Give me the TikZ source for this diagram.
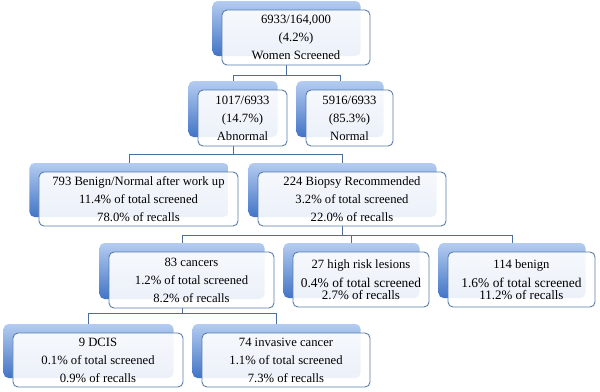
\documentclass[tikz,border=0pt]{standalone}
\usepackage{fontspec}
\setmainfont{Liberation Serif}
\usetikzlibrary{backgrounds,calc}
\definecolor{edgeblue}{HTML}{5A7DAA}
\definecolor{linecol}{HTML}{4C6E9E}
\definecolor{backtop}{HTML}{B4CCF0}
\definecolor{backbot}{HTML}{4274C6}
\tikzset{
  card/.style={draw=edgeblue, line width=0.9bp, rounded corners=5bp, fill=white,
    fill opacity=0.9, text opacity=1, align=center, inner sep=0pt, outer sep=0pt,
    font=\fontsize{12.7}{18}\selectfont},
  backcard/.style={rounded corners=5bp, top color=backtop, bottom color=backbot},
  conn/.style={draw=linecol, line width=0.9bp},
}
\newcommand\bcard[1]{\path[backcard] ([shift={(-9.5bp,9bp)}]#1.south west) rectangle ([shift={(-9.5bp,9bp)}]#1.north east);}
\newcommand\bpoints[1]{%
  \coordinate (#1-b) at ([xshift=-9.5bp]#1.south);
  \coordinate (#1-t) at ([shift={(-9.5bp,9bp)}]#1.north);}
\begin{document}
\begin{tikzpicture}[x=1bp,y=-1bp]
\useasboundingbox (0,0) rectangle (600,391);
% front cards
\node[card, minimum width=148bp, minimum height=55bp] (top) at (296,37.5) {6933/164,000\\(4.2\%)\\Women Screened};
\node[card, minimum width=89bp, minimum height=56bp] (abn) at (242.5,118) {1017/6933\\(14.7\%)\\Abnormal};
\node[card, minimum width=87bp, minimum height=56bp] (norm) at (349.5,118) {5916/6933\\(85.3\%)\\Normal};
\node[card, minimum width=199bp, minimum height=54bp] (ben) at (138.5,199) {793 Benign/Normal after work up\\11.4\% of total screened\\78.0\% of recalls};
\node[card, minimum width=188bp, minimum height=54bp] (bio) at (352,199) {224 Biopsy Recommended\\3.2\% of total screened\\22.0\% of recalls};
\node[card, minimum width=165bp, minimum height=56bp] (can) at (191.5,280) {83 cancers\\1.2\% of total screened\\8.2\% of recalls};
\node[card, minimum width=136bp, minimum height=55bp] (hr) at (361,279.5) {27 high risk lesions\\[1pt]{\fontsize{13.5}{18}\selectfont 0.4\% of total screened}\\[-6pt]{\fontsize{13}{18}\selectfont 2.7\% of recalls}};
\node[card, minimum width=147bp, minimum height=55bp] (bn) at (521.5,279.5) {114 benign\\[1pt]{\fontsize{13.5}{18}\selectfont 1.6\% of total screened}\\[-6pt]{\fontsize{13}{18}\selectfont 11.2\% of recalls}};
\node[card, minimum width=170bp, minimum height=54bp] (dcis) at (98,360) {9 DCIS\\0.1\% of total screened\\0.9\% of recalls};
\node[card, minimum width=168bp, minimum height=54bp] (inv) at (286,360) {74 invasive cancer\\1.1\% of total screened\\7.3\% of recalls};
\foreach \n in {top,abn,norm,ben,bio,can,hr,bn,dcis,inv}{\bpoints{\n}}
\begin{scope}[on background layer]
  \fill[white] (0,0) rectangle (600,391);
  % connectors
  \draw[conn] (top-b) -- ++(0,10) -| (abn-t);
  \draw[conn] (top-b) -- ++(0,10) -| (norm-t);
  \draw[conn] (abn-b) -- ++(0,8) -| (ben-t);
  \draw[conn] (abn-b) -- ++(0,8) -| (bio-t);
  \draw[conn] (bio-b) -- ++(0,9) -| (can-t);
  \draw[conn] (bio-b) -- ++(0,9) -| (hr-t);
  \draw[conn] (bio-b) -- ++(0,9) -| (bn-t);
  \draw[conn] (can-b) -- ++(0,5) -| (dcis-t);
  \draw[conn] (can-b) -- ++(0,5) -| (inv-t);
  % back cards
  \foreach \n in {top,abn,norm,ben,bio,can,hr,bn,dcis,inv}{\bcard{\n}}
\end{scope}
\end{tikzpicture}
\end{document}
